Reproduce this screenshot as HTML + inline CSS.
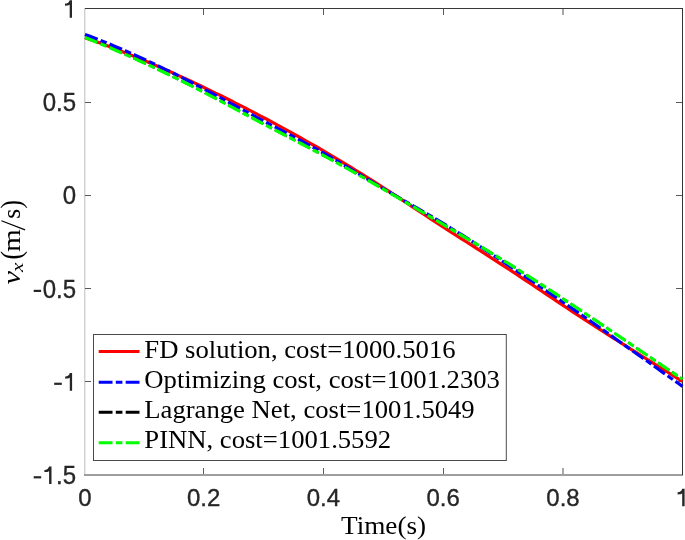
<!DOCTYPE html>
<html><head><meta charset="utf-8">
<style>
html,body{margin:0;padding:0;background:#fff;width:685px;height:540px;overflow:hidden}
svg{display:block;will-change:transform}
.tk{font-family:"Liberation Sans",sans-serif;font-size:24px;fill:#262626;stroke:#262626;stroke-width:0.35px}
.lg{font-family:"Liberation Serif",serif;font-size:25.5px;fill:#000}
</style></head>
<body>
<svg width="685" height="540" viewBox="0 0 685 540">
<rect width="685" height="540" fill="#fff"/>
<!-- axes box -->
<rect x="84" y="8" width="1" height="468" fill="#d0d0d0"/>
<rect x="85" y="9" width="1" height="465" fill="#ececec"/>
<rect x="84" y="474" width="599" height="2" fill="#9e9e9e"/>
<rect x="85" y="8" width="598" height="1" fill="#383838"/>
<rect x="682" y="8" width="1" height="467" fill="#353535"/>
<!-- ticks -->
<g fill="#5a5a5a">
<rect x="203" y="468" width="1" height="6"/>
<rect x="323" y="468" width="1" height="6"/>
<rect x="443" y="468" width="1" height="6"/>
<rect x="203" y="9" width="1" height="6"/>
<rect x="323" y="9" width="1" height="6"/>
<rect x="443" y="9" width="1" height="6"/>
<rect x="85" y="102" width="6" height="1"/>
<rect x="85" y="195" width="6" height="1"/>
<rect x="85" y="288" width="6" height="1"/>
<rect x="85" y="381" width="6" height="1"/>
<rect x="676" y="102" width="6" height="1"/>
<rect x="676" y="195" width="6" height="1"/>
<rect x="676" y="288" width="6" height="1"/>
<rect x="676" y="381" width="6" height="1"/>
</g>
<g fill="#a8a8a8">
<rect x="562" y="468" width="2" height="6"/>
<rect x="562" y="9" width="2" height="6"/>
</g>
<!-- curves -->
<g fill="none" stroke-width="3.2" stroke-linejoin="round">
<path d="M85.0,37.8 L90.0,39.5 L95.0,41.3 L100.1,43.1 L105.1,45.0 L110.1,46.8 L115.1,48.8 L120.1,50.7 L125.2,52.7 L130.2,54.7 L135.2,56.7 L140.2,58.8 L145.3,60.9 L150.3,63.0 L155.3,65.2 L160.3,67.4 L165.3,69.6 L170.4,71.8 L175.4,74.1 L180.4,76.4 L185.4,78.7 L190.4,81.0 L195.5,83.4 L200.5,85.8 L205.5,88.2 L210.5,90.6 L215.5,93.1 L220.6,95.5 L225.6,98.0 L230.6,100.5 L235.6,103.1 L240.7,105.6 L245.7,108.2 L250.7,110.8 L255.7,113.4 L260.7,116.1 L265.8,118.7 L270.8,121.4 L275.8,124.1 L280.8,126.8 L285.8,129.6 L290.9,132.4 L295.9,135.1 L300.9,138.0 L305.9,140.8 L310.9,143.7 L316.0,146.5 L321.0,149.4 L326.0,152.4 L331.0,155.3 L336.1,158.3 L341.1,161.3 L346.1,164.4 L351.1,167.4 L356.1,170.5 L361.2,173.6 L366.2,176.8 L371.2,179.9 L376.2,183.1 L381.2,186.4 L386.3,189.6 L391.3,192.9 L396.3,196.1 L401.3,199.4 L406.3,202.7 L411.4,206.1 L416.4,209.4 L421.4,212.7 L426.4,216.0 L431.4,219.3 L436.5,222.6 L441.5,225.9 L446.5,229.2 L451.5,232.4 L456.6,235.6 L461.6,238.8 L466.6,242.0 L471.6,245.2 L476.6,248.4 L481.7,251.6 L486.7,254.8 L491.7,258.1 L496.7,261.3 L501.7,264.6 L506.8,267.8 L511.8,271.1 L516.8,274.5 L521.8,277.8 L526.8,281.2 L531.9,284.5 L536.9,287.9 L541.9,291.3 L546.9,294.6 L552.0,298.0 L557.0,301.4 L562.0,304.7 L567.0,308.0 L572.0,311.3 L577.1,314.6 L582.1,317.9 L587.1,321.2 L592.1,324.4 L597.1,327.7 L602.2,330.9 L607.2,334.1 L612.2,337.3 L617.2,340.5 L622.2,343.7 L627.3,346.9 L632.3,350.1 L637.3,353.2 L642.3,356.4 L647.4,359.5 L652.4,362.6 L657.4,365.8 L662.4,368.9 L667.4,372.0 L672.5,375.2 L677.5,378.3 L682.5,381.4" stroke="#ff0000"/>
<path d="M85.0,34.4 L90.0,36.3 L95.0,38.2 L100.1,40.2 L105.1,42.2 L110.1,44.3 L115.1,46.4 L120.1,48.5 L125.2,50.7 L130.2,52.9 L135.2,55.2 L140.2,57.5 L145.3,59.8 L150.3,62.1 L155.3,64.5 L160.3,66.9 L165.3,69.4 L170.4,71.8 L175.4,74.3 L180.4,76.9 L185.4,79.4 L190.4,82.0 L195.5,84.6 L200.5,87.2 L205.5,89.9 L210.5,92.5 L215.5,95.2 L220.6,97.9 L225.6,100.6 L230.6,103.3 L235.6,106.0 L240.7,108.7 L245.7,111.4 L250.7,114.1 L255.7,116.8 L260.7,119.5 L265.8,122.1 L270.8,124.8 L275.8,127.4 L280.8,130.1 L285.8,132.7 L290.9,135.4 L295.9,138.0 L300.9,140.7 L305.9,143.4 L310.9,146.1 L316.0,148.9 L321.0,151.7 L326.0,154.5 L331.0,157.4 L336.1,160.4 L341.1,163.3 L346.1,166.3 L351.1,169.3 L356.1,172.3 L361.2,175.4 L366.2,178.4 L371.2,181.4 L376.2,184.4 L381.2,187.4 L386.3,190.3 L391.3,193.3 L396.3,196.2 L401.3,199.1 L406.3,202.0 L411.4,204.8 L416.4,207.7 L421.4,210.6 L426.4,213.5 L431.4,216.4 L436.5,219.4 L441.5,222.4 L446.5,225.4 L451.5,228.5 L456.6,231.6 L461.6,234.7 L466.6,237.9 L471.6,241.1 L476.6,244.4 L481.7,247.6 L486.7,250.9 L491.7,254.2 L496.7,257.5 L501.7,260.8 L506.8,264.2 L511.8,267.5 L516.8,270.9 L521.8,274.2 L526.8,277.6 L531.9,281.0 L536.9,284.4 L541.9,287.8 L546.9,291.2 L552.0,294.6 L557.0,298.0 L562.0,301.5 L567.0,304.9 L572.0,308.4 L577.1,311.9 L582.1,315.3 L587.1,318.8 L592.1,322.3 L597.1,325.8 L602.2,329.4 L607.2,332.9 L612.2,336.4 L617.2,340.0 L622.2,343.5 L627.3,347.1 L632.3,350.6 L637.3,354.2 L642.3,357.8 L647.4,361.3 L652.4,364.9 L657.4,368.5 L662.4,372.1 L667.4,375.6 L672.5,379.2 L677.5,382.8 L682.5,386.4" stroke="#0000ff" stroke-dasharray="13.5 3.2 6.5 3.2"/>
<path d="M85.0,37.5 L90.0,39.5 L95.0,41.6 L100.1,43.6 L105.1,45.7 L110.1,47.8 L115.1,50.0 L120.1,52.2 L125.2,54.4 L130.2,56.6 L135.2,58.9 L140.2,61.2 L145.3,63.5 L150.3,65.8 L155.3,68.2 L160.3,70.6 L165.3,73.0 L170.4,75.4 L175.4,77.9 L180.4,80.4 L185.4,82.9 L190.4,85.4 L195.5,88.0 L200.5,90.5 L205.5,93.1 L210.5,95.8 L215.5,98.4 L220.6,101.1 L225.6,103.7 L230.6,106.4 L235.6,109.1 L240.7,111.8 L245.7,114.5 L250.7,117.1 L255.7,119.8 L260.7,122.5 L265.8,125.1 L270.8,127.8 L275.8,130.4 L280.8,133.0 L285.8,135.7 L290.9,138.3 L295.9,140.9 L300.9,143.5 L305.9,146.2 L310.9,148.8 L316.0,151.5 L321.0,154.2 L326.0,156.9 L331.0,159.6 L336.1,162.4 L341.1,165.1 L346.1,167.9 L351.1,170.7 L356.1,173.5 L361.2,176.4 L366.2,179.2 L371.2,182.1 L376.2,185.0 L381.2,187.9 L386.3,190.8 L391.3,193.8 L396.3,196.7 L401.3,199.7 L406.3,202.6 L411.4,205.6 L416.4,208.5 L421.4,211.5 L426.4,214.5 L431.4,217.5 L436.5,220.4 L441.5,223.4 L446.5,226.4 L451.5,229.3 L456.6,232.3 L461.6,235.3 L466.6,238.3 L471.6,241.2 L476.6,244.2 L481.7,247.2 L486.7,250.2 L491.7,253.3 L496.7,256.3 L501.7,259.4 L506.8,262.5 L511.8,265.6 L516.8,268.8 L521.8,272.0 L526.8,275.2 L531.9,278.4 L536.9,281.6 L541.9,284.9 L546.9,288.1 L552.0,291.4 L557.0,294.7 L562.0,298.0 L567.0,301.3 L572.0,304.7 L577.1,308.0 L582.1,311.3 L587.1,314.7 L592.1,318.1 L597.1,321.4 L602.2,324.8 L607.2,328.2 L612.2,331.6 L617.2,335.0 L622.2,338.4 L627.3,341.8 L632.3,345.2 L637.3,348.6 L642.3,352.0 L647.4,355.4 L652.4,358.8 L657.4,362.2 L662.4,365.6 L667.4,369.0 L672.5,372.4 L677.5,375.8 L682.5,379.2" stroke="#000000" stroke-width="2.2" stroke-dasharray="13.5 3.2 6.5 3.2"/>
<path d="M85.0,37.5 L90.0,39.5 L95.0,41.6 L100.1,43.6 L105.1,45.7 L110.1,47.8 L115.1,50.0 L120.1,52.2 L125.2,54.4 L130.2,56.6 L135.2,58.9 L140.2,61.2 L145.3,63.5 L150.3,65.8 L155.3,68.2 L160.3,70.6 L165.3,73.0 L170.4,75.4 L175.4,77.9 L180.4,80.4 L185.4,82.9 L190.4,85.4 L195.5,88.0 L200.5,90.5 L205.5,93.1 L210.5,95.8 L215.5,98.4 L220.6,101.1 L225.6,103.7 L230.6,106.4 L235.6,109.1 L240.7,111.8 L245.7,114.5 L250.7,117.1 L255.7,119.8 L260.7,122.5 L265.8,125.1 L270.8,127.8 L275.8,130.4 L280.8,133.0 L285.8,135.7 L290.9,138.3 L295.9,140.9 L300.9,143.5 L305.9,146.2 L310.9,148.8 L316.0,151.5 L321.0,154.2 L326.0,156.9 L331.0,159.6 L336.1,162.4 L341.1,165.1 L346.1,167.9 L351.1,170.7 L356.1,173.5 L361.2,176.4 L366.2,179.2 L371.2,182.1 L376.2,185.0 L381.2,187.9 L386.3,190.8 L391.3,193.8 L396.3,196.7 L401.3,199.7 L406.3,202.6 L411.4,205.6 L416.4,208.5 L421.4,211.5 L426.4,214.5 L431.4,217.5 L436.5,220.4 L441.5,223.4 L446.5,226.4 L451.5,229.3 L456.6,232.3 L461.6,235.3 L466.6,238.3 L471.6,241.2 L476.6,244.2 L481.7,247.2 L486.7,250.2 L491.7,253.3 L496.7,256.3 L501.7,259.4 L506.8,262.5 L511.8,265.6 L516.8,268.8 L521.8,272.0 L526.8,275.2 L531.9,278.4 L536.9,281.6 L541.9,284.9 L546.9,288.1 L552.0,291.4 L557.0,294.7 L562.0,298.0 L567.0,301.3 L572.0,304.7 L577.1,308.0 L582.1,311.3 L587.1,314.7 L592.1,318.1 L597.1,321.4 L602.2,324.8 L607.2,328.2 L612.2,331.6 L617.2,335.0 L622.2,338.4 L627.3,341.8 L632.3,345.2 L637.3,348.6 L642.3,352.0 L647.4,355.4 L652.4,358.8 L657.4,362.2 L662.4,365.6 L667.4,369.0 L672.5,372.4 L677.5,375.8 L682.5,379.2" stroke="#00ff00" stroke-dasharray="13.5 3.2 6.5 3.2"/>
</g>
<!-- y tick labels -->
<g class="tk" text-anchor="end">
<g transform="translate(76,102.4) scale(1,1.05)"><text y="8.5">0.5</text></g>
<g transform="translate(76,195.4) scale(1,1.05)"><text y="8.5">0</text></g>
<g transform="translate(76,288.9) scale(1,1.05)"><text y="8.5">0.5</text></g>
<g transform="translate(76,475.2) scale(1,1.05)"><text y="8.5">.5</text></g>
</g>
<g fill="#262626">
<rect x="33.7" y="289.8" width="7.4" height="2.2"/>
<rect x="54.2" y="382.7" width="7.6" height="2.2"/>
<rect x="33.7" y="476.2" width="7.5" height="2.2"/>
<path d="M69.7,0.2 H72 V17.8 H69.7 Z M65,3.6 C67.6,3.6 69.2,2.2 69.7,0.2 L69.7,4.6 C69,5.4 67.6,5.8 65,5.8 Z"/>
<path d="M69.8,373.1 H72.1 V390.8 H69.8 Z M65.2,376.5 C67.8,376.5 69.3,375.1 69.8,373.1 L69.8,377.5 C69.1,378.3 67.7,378.7 65.2,378.7 Z"/>
<path d="M49.1,466.5 H51.5 V484 H49.1 Z M44.4,469.9 C47,469.9 48.6,468.5 49.1,466.5 L49.1,470.9 C48.4,471.7 47,472.1 44.4,472.1 Z"/>
<path d="M682.2,488.8 H684.6 V506.3 H682.2 Z M677.6,492.2 C680.2,492.2 681.7,490.8 682.2,488.8 L682.2,493.2 C681.5,494 680.1,494.4 677.6,494.4 Z"/>
</g>
<g class="tk" text-anchor="middle">
<text x="85" y="505.5">0</text>
<text x="203.7" y="505.5">0.2</text>
<text x="323.4" y="505.5">0.4</text>
<text x="443.2" y="505.5">0.6</text>
<text x="563" y="505.5">0.8</text>
</g>
<!-- axis labels -->
<g transform="translate(341,533.5) scale(1.067,1)"><text class="lg" x="0" y="0">Time(s)</text></g>
<g transform="translate(19.9,284.7) rotate(-90)" class="lg">
<text transform="translate(0.2,0) scale(1.2,1)" font-style="italic">v</text>
<text transform="translate(12.6,3.3) scale(1.2,1)" font-style="italic" font-size="17.5">x</text>
<text transform="translate(25.3,-6.6) scale(1,1.17) translate(0,6.6)">(</text>
<text transform="translate(33,0) scale(1.13,1)">m</text>
<line x1="54.8" y1="5.2" x2="64" y2="-18.5" stroke="#000" stroke-width="1.2"/>
<text x="66" y="0">s</text>
<text transform="translate(76.3,-6.6) scale(1,1.17) translate(0,6.6)">)</text>
</g>
<!-- legend -->
<rect x="93.5" y="334.5" width="412.8" height="126" fill="#fff" stroke="#4a4a4a" stroke-width="1"/>
<g stroke-width="3.1" fill="none">
<line x1="98.7" y1="351.5" x2="139.5" y2="351.5" stroke="#ff0000"/>
<line x1="98.7" y1="382.3" x2="139.5" y2="382.3" stroke="#0000ff" stroke-dasharray="13.8 3.3 6.6 3.3"/>
<line x1="98.7" y1="412.2" x2="139.5" y2="412.2" stroke="#000" stroke-dasharray="13.8 3.3 6.6 3.3"/>
<line x1="98.7" y1="442.8" x2="139.5" y2="442.8" stroke="#00ff00" stroke-dasharray="13.8 3.3 6.6 3.3"/>
</g>
<g class="lg" transform="translate(144.3,0) scale(1.046,1)">
<text x="0" y="358">FD solution, cost=1000.5016</text>
<text x="0" y="388">Optimizing cost, cost=1001.2303</text>
<text x="0" y="417.8">Lagrange Net, cost=1001.5049</text>
<text x="0" y="447.6">PINN, cost=1001.5592</text>
</g>
</svg>
</body></html>
